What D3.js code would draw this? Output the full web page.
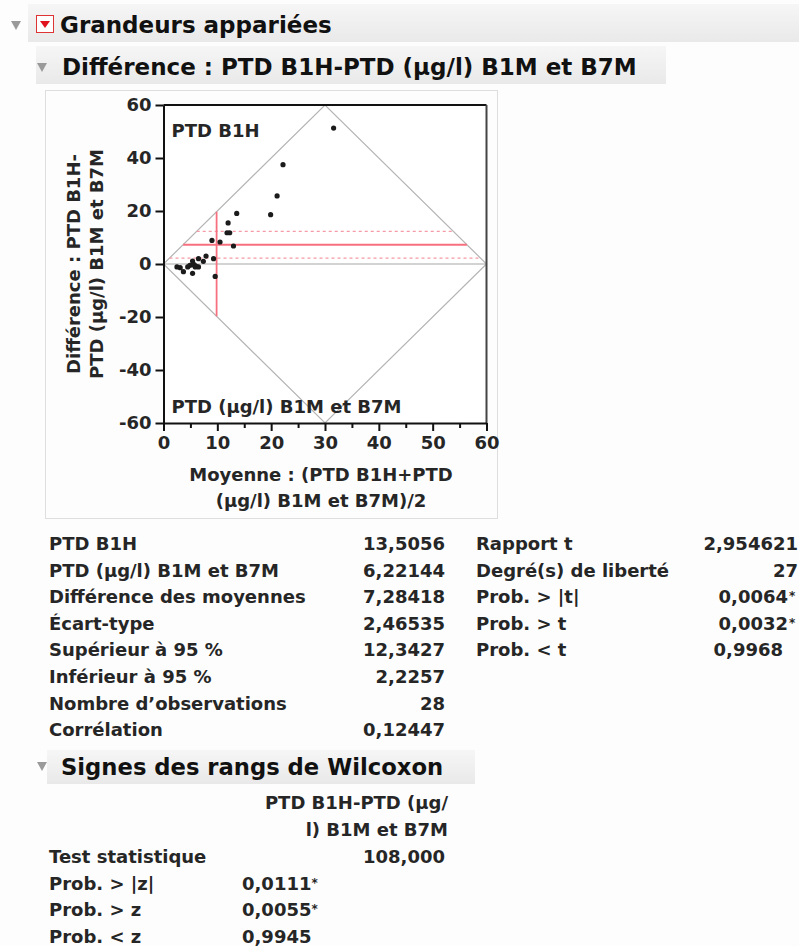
<!DOCTYPE html>
<html>
<head>
<meta charset="utf-8">
<script src="https://cdn.jsdelivr.net/npm/d3@7"></script>
<style>
html, body { margin: 0; padding: 0; background: #fdfdfd; }
svg { display: block; font-family: "DejaVu Sans", sans-serif; }
.txt { fill: #262626; font-size: 18px; font-weight: bold; }
.head { fill: #111; font-weight: bold; }
.axis text { fill: #262626; font-size: 18px; font-weight: bold; font-family: "DejaVu Sans", sans-serif; }
.axis path, .axis line { stroke: #111; stroke-width: 2; }
</style>
</head>
<body>
<div id="chart"></div>
<script>
'use strict';

// paired observations: mean of the two and their difference
const means = [31.6, 22.2, 21.1, 19.9, 13.6, 12.0, 11.8, 12.3, 13.0, 9.0, 10.5, 9.3, 9.6, 7.9,
               7.4, 6.5, 5.4, 5.4, 5.9, 6.5, 4.5, 2.5, 3.7, 5.4, 4.9, 5.7, 6.1, 3.1];
const diffs = [51.3, 37.5, 25.7, 18.6, 19.1, 15.5, 11.8, 11.8, 6.8, 8.9, 8.3, 2.0, -4.7, 3.0,
               1.0, 2.0, 1.1, -0.3, -1.1, -1.1, -1.1, -1.1, -2.9, -3.5, -0.5, -0.2, -0.9, -1.4];

const meanB1H = 13.5056;
const meanB7M = 6.22144;
const meanDiff = 7.28418;
const upper95 = 12.3427;
const lower95 = 2.2257;

const yTicks = [-60, -40, -20, 0, 20, 40, 60];
const xTicks = [0, 10, 20, 30, 40, 50, 60];
const xMinor = [5, 15, 25, 35, 45, 55];

const statLabels = ['PTD B1H', 'PTD (µg/l) B1M et B7M', 'Différence des moyennes', 'Écart-type',
                    'Supérieur à 95 %', 'Inférieur à 95 %', 'Nombre d’observations', 'Corrélation'];
const statValues = ['13,5056', '6,22144', '7,28418', '2,46535', '12,3427', '2,2257', '28', '0,12447'];

const testLabels = ['Rapport t', 'Degré(s) de liberté', 'Prob. > |t|', 'Prob. > t', 'Prob. < t'];
const testValues = ['2,954621', '27', '0,0064', '0,0032', '0,9968'];
const testStars = [false, false, true, true, false];

const wilcoxHeader = ['PTD B1H-PTD (µg/', 'l) B1M et B7M'];
const wilcoxLabels = ['Test statistique', 'Prob. > |z|', 'Prob. > z', 'Prob. < z'];
const wilcoxStat = '108,000';
const wilcoxProbs = ['0,0111', '0,0055', '0,9945'];
const wilcoxStars = [true, true, false];

const W = 799, H = 946;

const svg = d3.select('#chart').append('svg')
    .attr('width', W)
    .attr('height', H);

/*
* outline headers
 */

function disclosure(cx, cy) {
    svg.append('path')
        .attr('d', 'M' + (cx - 5) + ',' + (cy - 4) + 'L' + (cx + 5) + ',' + (cy - 4) + 'L' + cx + ',' + (cy + 5) + 'Z')
        .style('fill', '#9a9a9a');
}

let defs = svg.append('defs');
let grad = defs.append('linearGradient').attr('id', 'band').attr('x1', 0).attr('x2', 0).attr('y1', 0).attr('y2', 1);
grad.append('stop').attr('offset', '0%').attr('stop-color', '#f6f6f6');
grad.append('stop').attr('offset', '100%').attr('stop-color', '#e9e9e9');

svg.append('rect').attr('x', 28).attr('y', 4).attr('width', W - 28).attr('height', 38).style('fill', 'url(#band)');
svg.append('rect').attr('x', 36).attr('y', 46).attr('width', 630).attr('height', 38).style('fill', 'url(#band)');

disclosure(16, 25);
svg.append('rect').attr('x', 36.5).attr('y', 15.5).attr('width', 17).attr('height', 17)
    .style('fill', '#fff').style('stroke', '#d33').style('stroke-width', 1);
svg.append('path').attr('d', 'M40,21L50,21L45,28Z').style('fill', '#e0141e');

svg.append('text').attr('class', 'head').attr('x', 60).attr('y', 33).style('font-size', '23px')
    .text('Grandeurs appariées');

disclosure(42, 67);
svg.append('text').attr('class', 'head').attr('x', 62).attr('y', 75).style('font-size', '23px')
    .text('Différence : PTD B1H-PTD (µg/l) B1M et B7M');

/*
* the paired plot
 */

svg.append('rect').attr('x', 45.5).attr('y', 90.5).attr('width', 452).attr('height', 428)
    .style('fill', 'none').style('stroke', '#dedede');

const x = d3.scaleLinear().domain([0, 60]).range([163.5, 486.5]);
const y = d3.scaleLinear().domain([-60, 60]).range([423, 105]);

let plot = svg.append('g').attr('id', 'plot');

plot.append('rect')
    .attr('x', x(0)).attr('y', y(60))
    .attr('width', x(60) - x(0)).attr('height', y(-60) - y(60))
    .style('fill', '#fff');

// diamond: limits where either measure reaches 0 or the top of the range
let lim = x.domain()[1];
let diamond = [[0, 0], [lim / 2, lim], [lim, 0], [lim / 2, -lim]];
plot.append('path')
    .attr('d', d3.line().x(d => x(d[0])).y(d => y(d[1])).curve(d3.curveLinearClosed)(diamond))
    .style('fill', 'none').style('stroke', '#b4b4b4').style('stroke-width', 1.2);

plot.append('line')
    .attr('x1', x(0)).attr('x2', x(lim)).attr('y1', y(0)).attr('y2', y(0))
    .style('stroke', '#c4c4c4').style('stroke-width', 1.5);

// horizontal reference lines, clipped to the diamond
let refLines = [
    { v: upper95, dash: '3,3', w: 1.2, c: '#f59aa6' },
    { v: lower95, dash: '3,3', w: 1.2, c: '#f59aa6' },
    { v: meanDiff, dash: null, w: 2, c: '#f7707f' }
];

plot.selectAll('.ref')
    .data(refLines)
    .enter()
    .append('line')
    .attr('class', 'ref')
    .attr('x1', d => x(Math.abs(d.v) / 2))
    .attr('x2', d => x(lim - Math.abs(d.v) / 2))
    .attr('y1', d => y(d.v))
    .attr('y2', d => y(d.v))
    .style('stroke', d => d.c)
    .style('stroke-width', d => d.w)
    .style('stroke-dasharray', d => d.dash);

let grand = (meanB1H + meanB7M) / 2;
plot.append('line')
    .attr('x1', x(grand)).attr('x2', x(grand))
    .attr('y1', y(2 * grand)).attr('y2', y(-2 * grand))
    .style('stroke', '#f7707f').style('stroke-width', 1.8);

plot.selectAll('.pt')
    .data(means.map((m, i) => ({ m: m, d: diffs[i] })))
    .enter()
    .append('circle')
    .attr('class', 'pt')
    .attr('cx', d => x(d.m))
    .attr('cy', d => y(d.d))
    .attr('r', 2.6)
    .style('fill', '#1b1b1b');

// frame
plot.append('line').attr('x1', x(0)).attr('x2', x(60)).attr('y1', y(60)).attr('y2', y(60))
    .style('stroke', '#111').style('stroke-width', 2);
plot.append('line').attr('x1', x(60)).attr('x2', x(60)).attr('y1', y(60)).attr('y2', y(-60))
    .style('stroke', '#444').style('stroke-width', 2);

let plain = d => String(d);

svg.append('g').attr('class', 'axis')
    .attr('transform', 'translate(' + x(0) + ',0)')
    .call(d3.axisLeft(y).tickValues(yTicks).tickFormat(plain).tickSize(8).tickPadding(4).tickSizeOuter(0));

svg.append('g').attr('class', 'axis')
    .attr('transform', 'translate(0,' + y(-60) + ')')
    .call(d3.axisBottom(x).tickValues(xTicks).tickFormat(plain).tickSize(8).tickPadding(5).tickSizeOuter(0));

svg.append('g').attr('class', 'axis')
    .attr('transform', 'translate(0,' + y(-60) + ')')
    .call(d3.axisBottom(x).tickValues(xMinor).tickSize(5).tickFormat('').tickSizeOuter(0))
    .select('.domain').remove();

plot.append('text').attr('class', 'txt').attr('x', x(0) + 8).attr('y', y(60) + 32).text('PTD B1H');
plot.append('text').attr('class', 'txt').attr('x', x(0) + 8).attr('y', y(-60) - 10).text('PTD (µg/l) B1M et B7M');

let xTitle = svg.append('text').attr('class', 'txt').attr('text-anchor', 'middle');
xTitle.append('tspan').attr('x', (x(0) + x(60)) / 2 - 4).attr('y', 481).text('Moyenne : (PTD B1H+PTD');
xTitle.append('tspan').attr('x', (x(0) + x(60)) / 2 - 4).attr('y', 507).text('(µg/l) B1M et B7M)/2');

let yTitle = svg.append('text').attr('class', 'txt').attr('text-anchor', 'middle')
    .attr('transform', 'translate(0,' + y(0) + ') rotate(-90)');
yTitle.append('tspan').attr('x', 0).attr('y', 80).text('Différence : PTD B1H-');
yTitle.append('tspan').attr('x', 0).attr('y', 103).text('PTD (µg/l) B1M et B7M');

/*
* summary tables
 */

const rowStep = 26.6;
const tableTop = 550;

function star(g, xx, yy) {
    g.append('text').attr('x', xx).attr('y', yy - 3).style('font-size', '12px').text('*');
}

let left = svg.append('g').attr('class', 'txt');
statLabels.forEach(function (lab, i) {
    left.append('text').attr('x', 49).attr('y', tableTop + i * rowStep).text(lab);
    left.append('text').attr('x', 445).attr('y', tableTop + i * rowStep).attr('text-anchor', 'end').text(statValues[i]);
});

testLabels.forEach(function (lab, i) {
    let yy = tableTop + i * rowStep;
    left.append('text').attr('x', 476).attr('y', yy).text(lab);
    let isP = lab.indexOf('Prob') === 0;
    let xx = !isP ? 798 : (testStars[i] ? 788 : 783);
    left.append('text').attr('x', xx).attr('y', yy).attr('text-anchor', 'end').text(testValues[i]);
    if (testStars[i]) star(left, 789, yy);
});

// Wilcoxon block
let wTop = 750;
svg.append('rect').attr('x', 47).attr('y', wTop).attr('width', 428).attr('height', 34).style('fill', 'url(#band)');
disclosure(42, wTop + 16);
svg.append('text').attr('class', 'head').attr('x', 61).attr('y', wTop + 25).style('font-size', '22.7px')
    .text('Signes des rangs de Wilcoxon');

let wil = svg.append('g').attr('class', 'txt');
wilcoxHeader.forEach(function (h, i) {
    wil.append('text').attr('x', 448).attr('y', 809 + i * rowStep).attr('text-anchor', 'end').text(h);
});
wilcoxLabels.forEach(function (lab, i) {
    let yy = 863 + i * rowStep;
    wil.append('text').attr('x', 49).attr('y', yy).text(lab);
    if (i === 0) {
        wil.append('text').attr('x', 445).attr('y', yy).attr('text-anchor', 'end').text(wilcoxStat);
    } else {
        let t = wil.append('text').attr('x', 242).attr('y', yy).text(wilcoxProbs[i - 1]);
        if (wilcoxStars[i - 1]) {
            t.append('tspan').attr('dy', -3).style('font-size', '12px').text('*');
        }
    }
});
</script>
</body>
</html>
